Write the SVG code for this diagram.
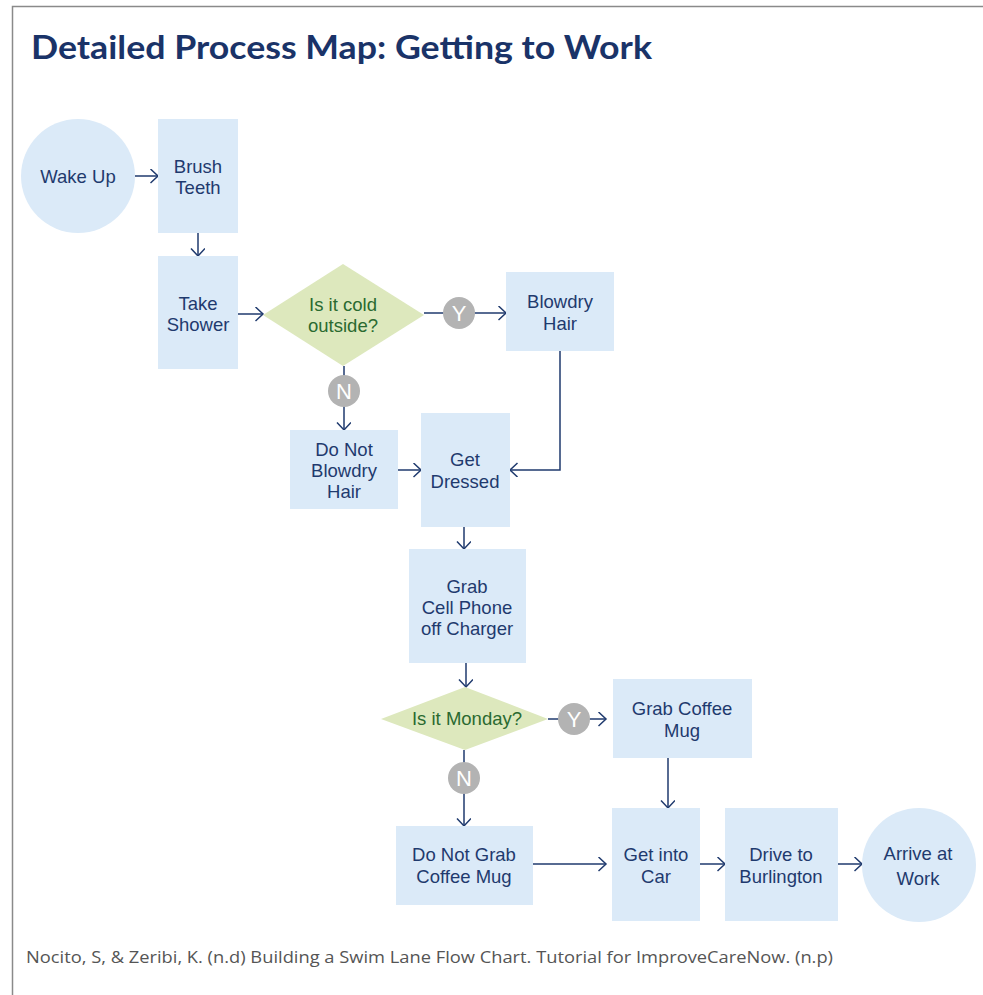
<svg xmlns="http://www.w3.org/2000/svg" width="983" height="995" viewBox="0 0 983 995">
<style>
.box{fill:#dbeaf8}
.dia{fill:#dde8bd}
.t{font-family:"Liberation Sans",Arial,sans-serif;font-size:18.5px;fill:#1f3a6e;text-anchor:middle}
.dt{font-family:"Liberation Sans",Arial,sans-serif;font-size:18.5px;fill:#2a6a30;text-anchor:middle}
.yn{fill:#b3b3b3}
.ynt{font-family:"Liberation Sans",Arial,sans-serif;font-size:22px;fill:#ffffff;text-anchor:middle}
.c{fill:none;stroke:#1f3a6e;stroke-width:1.5}
</style>
<defs>
<marker id="ah" markerUnits="userSpaceOnUse" markerWidth="12" markerHeight="16" refX="8.5" refY="7" orient="auto">
<path d="M1,0 L8.5,7 L1,14" fill="none" stroke="#1f3a6e" stroke-width="1.5"/>
</marker>
</defs>
<rect x="0" y="0" width="983" height="995" fill="#ffffff"/>
<path d="M12.5,995 V6.5 H983" fill="none" stroke="#8a8a8a" stroke-width="1.5"/>
<text x="31" y="59" font-family="Lato,'Open Sans',sans-serif" font-weight="bold" font-size="33" fill="#1a3368" textLength="621" lengthAdjust="spacingAndGlyphs">Detailed Process Map: Getting to Work</text>

<g id="connectors">
<line class="c" x1="135" y1="176" x2="158" y2="176" marker-end="url(#ah)"/>
<line class="c" x1="198" y1="233" x2="198" y2="256" marker-end="url(#ah)"/>
<line class="c" x1="238" y1="314" x2="263" y2="314" marker-end="url(#ah)"/>
<line class="c" x1="424" y1="313" x2="506" y2="313" marker-end="url(#ah)"/>
<line class="c" x1="344" y1="366" x2="344" y2="430" marker-end="url(#ah)"/>
<polyline class="c" points="560,351 560,470 510,470" marker-end="url(#ah)"/>
<line class="c" x1="398" y1="470" x2="421" y2="470" marker-end="url(#ah)"/>
<line class="c" x1="464" y1="527" x2="464" y2="549" marker-end="url(#ah)"/>
<line class="c" x1="466" y1="663" x2="466" y2="687" marker-end="url(#ah)"/>
<line class="c" x1="548" y1="719" x2="606" y2="719" marker-end="url(#ah)"/>
<line class="c" x1="464" y1="750" x2="464" y2="826" marker-end="url(#ah)"/>
<line class="c" x1="668" y1="758" x2="668" y2="808" marker-end="url(#ah)"/>
<line class="c" x1="533" y1="864" x2="606" y2="864" marker-end="url(#ah)"/>
<line class="c" x1="700" y1="864" x2="725" y2="864" marker-end="url(#ah)"/>
<line class="c" x1="838" y1="864" x2="862" y2="864" marker-end="url(#ah)"/>
<circle class="yn" cx="459" cy="313" r="16"/>
<text class="ynt" x="459" y="321">Y</text>
<circle class="yn" cx="344" cy="391" r="16"/>
<text class="ynt" x="344" y="399">N</text>
<circle class="yn" cx="574" cy="719" r="16"/>
<text class="ynt" x="574" y="727">Y</text>
<circle class="yn" cx="464" cy="778" r="16"/>
<text class="ynt" x="464" y="786">N</text>
</g>

<g id="wake-up">
<circle class="box" cx="78" cy="176" r="57"/>
<text class="t" x="78" y="183">Wake Up</text>
</g>
<g id="brush-teeth">
<rect class="box" x="158" y="119" width="80" height="114"/>
<text class="t" x="198" y="173">Brush</text>
<text class="t" x="198" y="194">Teeth</text>
</g>
<g id="take-shower">
<rect class="box" x="158" y="256" width="80" height="113"/>
<text class="t" x="198" y="310">Take</text>
<text class="t" x="198" y="331">Shower</text>
</g>
<g id="cold-outside">
<polygon class="dia" points="263,315 343,264 424,315 343,366"/>
<text class="dt" x="343" y="311">Is it cold</text>
<text class="dt" x="343" y="332">outside?</text>
</g>
<g id="blowdry-hair">
<rect class="box" x="506" y="272" width="108" height="79"/>
<text class="t" x="560" y="308">Blowdry</text>
<text class="t" x="560" y="330">Hair</text>
</g>
<g id="do-not-blowdry">
<rect class="box" x="290" y="430" width="108" height="79"/>
<text class="t" x="344" y="456">Do Not</text>
<text class="t" x="344" y="477">Blowdry</text>
<text class="t" x="344" y="498">Hair</text>
</g>
<g id="get-dressed">
<rect class="box" x="421" y="413" width="89" height="114"/>
<text class="t" x="465" y="466">Get</text>
<text class="t" x="465" y="488">Dressed</text>
</g>
<g id="grab-cell-phone">
<rect class="box" x="409" y="549" width="117" height="114"/>
<text class="t" x="467" y="593">Grab</text>
<text class="t" x="467" y="614">Cell Phone</text>
<text class="t" x="467" y="635">off Charger</text>
</g>
<g id="is-monday">
<polygon class="dia" points="381,719 465,687 548,719 465,750"/>
<text class="dt" x="467" y="725">Is it Monday?</text>
</g>
<g id="grab-coffee-mug">
<rect class="box" x="613" y="679" width="139" height="79"/>
<text class="t" x="682" y="715">Grab Coffee</text>
<text class="t" x="682" y="737">Mug</text>
</g>
<g id="do-not-grab-mug">
<rect class="box" x="396" y="826" width="137" height="79"/>
<text class="t" x="464" y="861">Do Not Grab</text>
<text class="t" x="464" y="883">Coffee Mug</text>
</g>
<g id="get-into-car">
<rect class="box" x="612" y="808" width="88" height="113"/>
<text class="t" x="656" y="861">Get into</text>
<text class="t" x="656" y="883">Car</text>
</g>
<g id="drive-to-burlington">
<rect class="box" x="725" y="808" width="113" height="113"/>
<text class="t" x="781" y="861">Drive to</text>
<text class="t" x="781" y="883">Burlington</text>
</g>
<g id="arrive-at-work">
<circle class="box" cx="919" cy="865" r="57"/>
<text class="t" x="918" y="860">Arrive at</text>
<text class="t" x="918" y="885">Work</text>
</g>

<text x="26" y="963" font-family="'Open Sans','Noto Sans',sans-serif" font-size="17" fill="#555555" textLength="807" lengthAdjust="spacingAndGlyphs">Nocito, S, &amp; Zeribi, K. (n.d) Building a Swim Lane Flow Chart. Tutorial for ImproveCareNow. (n.p)</text>
</svg>
